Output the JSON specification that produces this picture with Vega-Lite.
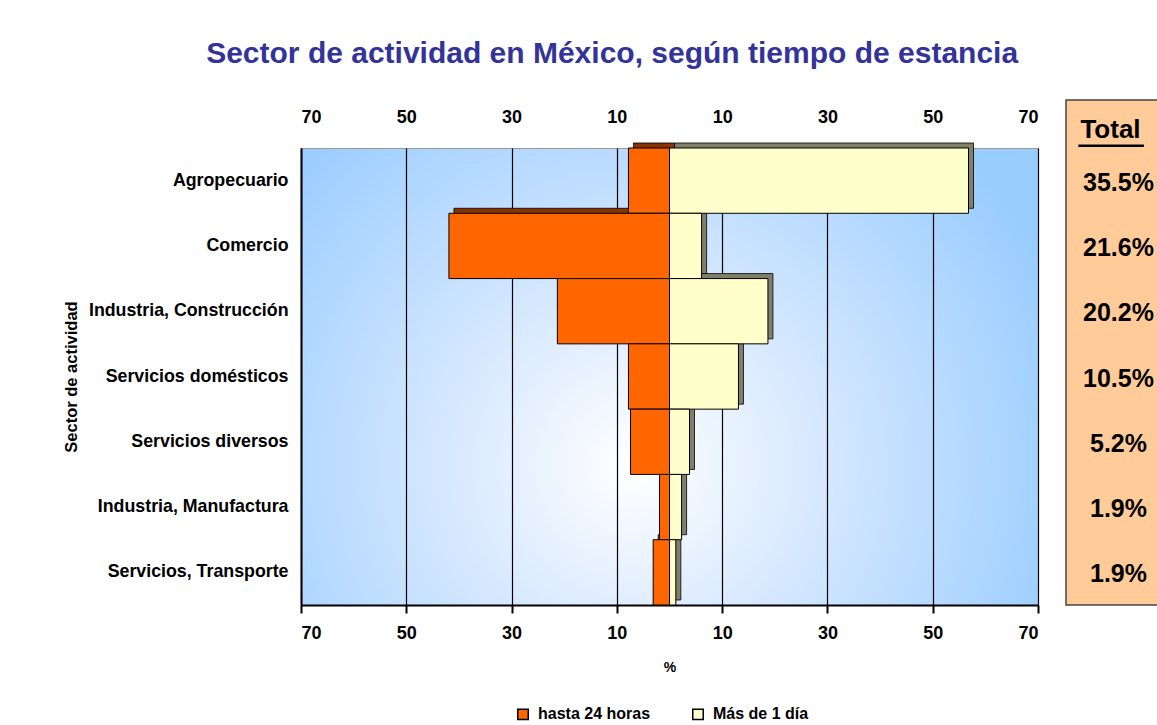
{
  "$schema": "https://vega.github.io/schema/vega-lite/v6.json",
  "padding": {"left": 62, "top": 39, "right": 0, "bottom": 5},
  "background": "white",
  "title": {"text": "Sector de actividad en México, según tiempo de estancia", "fontSize": 30, "font": "Liberation Sans", "fontWeight": "bold", "color": "#333399", "anchor": "middle", "offset": 30},
  "config": {
    "font": "Liberation Sans",
    "axis": {"labelFont": "Liberation Sans", "labelFontWeight": "bold", "labelColor": "black", "titleColor": "black", "titleFontWeight": "bold", "domainColor": "black", "tickColor": "black"},
    "legend": {"labelFont": "Liberation Sans", "labelFontWeight": "bold", "labelFontSize": 16, "labelColor": "black"}
  },
  "datasets": {
    "barras": [
      {"sector": "Agropecuario", "grupo": "hasta 24 horas", "valor": -7.8},
      {"sector": "Comercio", "grupo": "hasta 24 horas", "valor": -41.9},
      {"sector": "Industria, Construcción", "grupo": "hasta 24 horas", "valor": -21.3},
      {"sector": "Servicios domésticos", "grupo": "hasta 24 horas", "valor": -7.8},
      {"sector": "Servicios diversos", "grupo": "hasta 24 horas", "valor": -7.4},
      {"sector": "Industria, Manufactura", "grupo": "hasta 24 horas", "valor": -1.9},
      {"sector": "Servicios, Transporte", "grupo": "hasta 24 horas", "valor": -3.1},
      {"sector": "Agropecuario", "grupo": "Más de 1 día", "valor": 56.8},
      {"sector": "Comercio", "grupo": "Más de 1 día", "valor": 6.1},
      {"sector": "Industria, Construcción", "grupo": "Más de 1 día", "valor": 18.7},
      {"sector": "Servicios domésticos", "grupo": "Más de 1 día", "valor": 13.1},
      {"sector": "Servicios diversos", "grupo": "Más de 1 día", "valor": 3.8},
      {"sector": "Industria, Manufactura", "grupo": "Más de 1 día", "valor": 2.3},
      {"sector": "Servicios, Transporte", "grupo": "Más de 1 día", "valor": 1.2}
    ],
    "totales": [
      {"sector": "Agropecuario", "total": "35.5%"},
      {"sector": "Comercio", "total": "21.6%"},
      {"sector": "Industria, Construcción", "total": "20.2%"},
      {"sector": "Servicios domésticos", "total": "10.5%"},
      {"sector": "Servicios diversos", "total": "5.2%"},
      {"sector": "Industria, Manufactura", "total": "1.9%"},
      {"sector": "Servicios, Transporte", "total": "1.9%"}
    ]
  },
  "hconcat": [
    {
      "width": 737,
      "height": 457,
      "view": {
        "stroke": "#999999",
        "fill": {"gradient": "radial", "x1": 0.45, "y1": 0.62, "r1": 0, "x2": 0.45, "y2": 0.62, "r2": 0.62,
          "stops": [{"offset": 0, "color": "#ffffff"}, {"offset": 0.35, "color": "#dcebff"}, {"offset": 1, "color": "#99ccff"}]}
      },
      "data": {"name": "barras"},
      "encoding": {
        "y": {"field": "sector", "type": "nominal",
          "sort": ["Agropecuario", "Comercio", "Industria, Construcción", "Servicios domésticos", "Servicios diversos", "Industria, Manufactura", "Servicios, Transporte"],
          "scale": {"paddingInner": 0, "paddingOuter": 0},
          "axis": {"title": "Sector de actividad", "titleFontSize": 16.5, "labelFontSize": 17.8, "labelLimit": 320, "ticks": false, "labelPadding": 13, "titlePadding": 22, "domainWidth": 2}}
      },
      "layer": [
        {
          "mark": {"type": "bar", "xOffset": 5, "yOffset": -5, "stroke": "black", "strokeWidth": 0.8},
          "encoding": {
            "x": {"field": "valor", "type": "quantitative",
              "scale": {"domain": [-70, 70], "nice": false},
              "axis": {"orient": "top", "values": [-70, -50, -30, -10, 10, 30, 50, 70], "labelExpr": "abs(datum.value)", "labelFontSize": 18, "grid": false, "ticks": false, "domain": false, "labelPadding": 22, "title": null}},
            "color": {"condition": {"test": "datum.valor < 0", "value": "#8a3300"}, "value": "#80806a"}
          }
        },
        {
          "mark": {"type": "bar", "stroke": "black", "strokeWidth": 1},
          "encoding": {
            "x": {"field": "valor", "type": "quantitative",
              "scale": {"domain": [-70, 70], "nice": false},
              "axis": {"orient": "bottom", "values": [-70, -50, -30, -10, 10, 30, 50, 70], "labelExpr": "abs(datum.value)", "labelFontSize": 18, "grid": true, "gridColor": "black", "gridOpacity": 1, "gridWidth": 1.2, "tickSize": 8, "tickWidth": 2, "domainWidth": 2, "labelPadding": 11, "title": "%", "titleFontSize": 14, "titlePadding": 18}},
            "color": {"field": "grupo", "type": "nominal",
              "scale": {"domain": ["hasta 24 horas", "Más de 1 día"], "range": ["#ff6600", "#ffffcc"]},
              "legend": {"title": null, "orient": "none", "legendX": 214, "legendY": 558, "padding": 0, "direction": "horizontal", "symbolType": "square", "symbolStrokeColor": "black", "symbolStrokeWidth": 1.5, "symbolSize": 110, "columnPadding": 38, "labelOffset": 7}}
          }
        }
      ]
    },
    {
      "width": 95,
      "height": 457,
      "view": {"stroke": null},
      "layer": [
        {
          "data": {"values": [{"fondo": 1}]},
          "mark": {"type": "rect", "color": "#ffcc99", "stroke": "#444444", "strokeWidth": 1.5, "yOffset": -48, "y2Offset": 15},
          "encoding": {}
        },
        {
          "data": {"name": "totales"},
          "mark": {"type": "text", "fontSize": 25, "fontWeight": "bold", "font": "Liberation Sans", "color": "black", "align": "center", "baseline": "middle", "dx": 5, "yOffset": 2},
          "encoding": {
            "y": {"field": "sector", "type": "nominal",
              "sort": ["Agropecuario", "Comercio", "Industria, Construcción", "Servicios domésticos", "Servicios diversos", "Industria, Manufactura", "Servicios, Transporte"],
              "scale": {"paddingInner": 0, "paddingOuter": 0}, "axis": null},
            "text": {"field": "total"}
          }
        },
        {
          "data": {"values": [{"sector": "Agropecuario", "h": "Total"}]},
          "mark": {"type": "text", "fontSize": 26, "fontWeight": "bold", "font": "Liberation Sans", "color": "black", "align": "center", "baseline": "middle", "yOffset": -51, "dx": -3},
          "encoding": {
            "y": {"field": "sector", "type": "nominal",
              "sort": ["Agropecuario", "Comercio", "Industria, Construcción", "Servicios domésticos", "Servicios diversos", "Industria, Manufactura", "Servicios, Transporte"],
              "axis": null},
            "text": {"field": "h"}
          }
        },
        {
          "data": {"values": [{"sector": "Agropecuario", "a": 0.13, "b": 0.82}]},
          "mark": {"type": "rule", "color": "black", "strokeWidth": 2.5, "yOffset": -35},
          "encoding": {
            "y": {"field": "sector", "type": "nominal",
              "sort": ["Agropecuario", "Comercio", "Industria, Construcción", "Servicios domésticos", "Servicios diversos", "Industria, Manufactura", "Servicios, Transporte"],
              "axis": null},
            "x": {"field": "a", "type": "quantitative", "scale": {"domain": [0, 1]}, "axis": null},
            "x2": {"field": "b"}
          }
        }
      ]
    }
  ],
  "spacing": 25
}
